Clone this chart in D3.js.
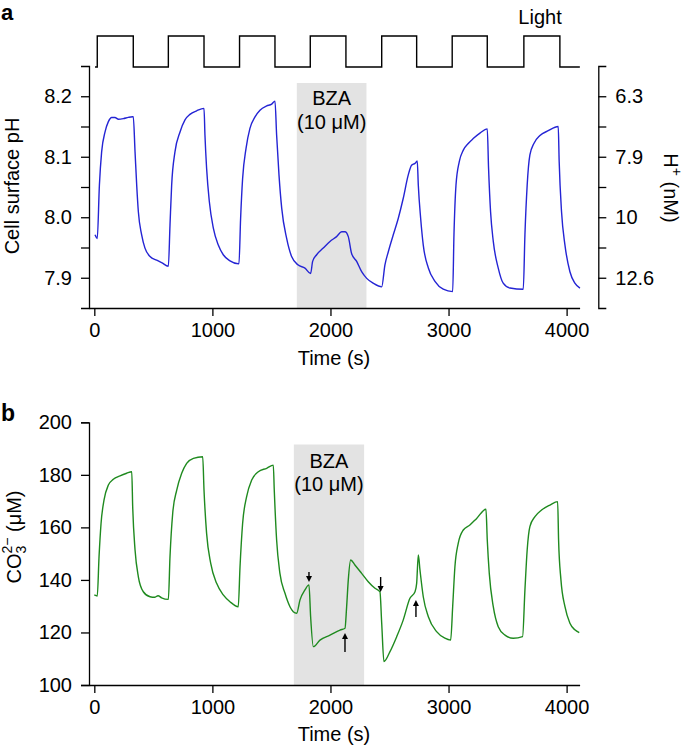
<!DOCTYPE html>
<html>
<head>
<meta charset="utf-8">
<script src="https://cdn.jsdelivr.net/npm/d3@7"></script>
<style>
  body { margin: 0; background: #fff; }
  svg { display: block; }
  text { font-family: "Liberation Sans", Arial, Helvetica, sans-serif; }
</style>
</head>
<body>
<svg id="chart" width="685" height="746"></svg>
<script>
// ---------- data ----------
// Panel a: cell surface pH vs time (s)
const phTime = [6, 25, 43, 62, 91, 119, 147, 175, 204, 246, 288, 325, 330, 345, 359, 373, 401, 429, 472, 528, 570, 627, 641, 655, 683, 726, 768, 810, 867, 929, 937, 951, 974, 1008, 1050, 1092, 1149, 1225, 1239, 1256, 1285, 1318, 1361, 1403, 1460, 1502, 1530, 1544, 1564, 1587, 1629, 1671, 1727, 1784, 1832, 1849, 1883, 1939, 1996, 2052, 2095, 2123, 2151, 2179, 2222, 2264, 2307, 2362, 2434, 2461, 2490, 2532, 2574, 2616, 2659, 2687, 2716, 2735, 2744, 2764, 2786, 2829, 2885, 2955, 3035, 3046, 3063, 3091, 3125, 3167, 3209, 3266, 3328, 3339, 3356, 3379, 3421, 3463, 3520, 3633, 3647, 3666, 3689, 3723, 3774, 3844, 3929, 3937, 3957, 3986, 4028, 4070, 4113];
const phValue = [7.971, 7.965, 8.053, 8.108, 8.141, 8.158, 8.165, 8.165, 8.162, 8.163, 8.165, 8.166, 8.166, 8.108, 8.053, 8.009, 7.971, 7.949, 7.935, 7.929, 7.925, 7.919, 7.987, 8.053, 8.108, 8.141, 8.161, 8.170, 8.176, 8.180, 8.136, 8.081, 8.026, 7.982, 7.954, 7.938, 7.928, 7.923, 7.998, 8.064, 8.114, 8.147, 8.166, 8.177, 8.184, 8.187, 8.192, 8.136, 8.070, 8.015, 7.965, 7.935, 7.921, 7.916, 7.907, 7.927, 7.938, 7.949, 7.960, 7.968, 7.976, 7.976, 7.968, 7.940, 7.927, 7.910, 7.899, 7.891, 7.885, 7.921, 7.943, 7.971, 7.998, 8.031, 8.070, 8.086, 8.089, 8.093, 8.053, 7.998, 7.954, 7.916, 7.894, 7.881, 7.877, 7.971, 8.053, 8.092, 8.111, 8.122, 8.130, 8.139, 8.146, 8.081, 8.009, 7.960, 7.916, 7.891, 7.883, 7.881, 7.971, 8.053, 8.103, 8.122, 8.135, 8.143, 8.150, 8.092, 8.009, 7.954, 7.910, 7.891, 7.883];

// Panel b: CO3 2- (uM) vs time (s)
const coTime = [0, 25, 40, 57, 82, 119, 161, 218, 274, 317, 325, 345, 373, 415, 472, 510, 540, 570, 627, 641, 664, 698, 740, 782, 839, 918, 929, 951, 986, 1036, 1092, 1149, 1219, 1234, 1256, 1290, 1333, 1389, 1460, 1516, 1524, 1544, 1572, 1615, 1657, 1685, 1714, 1742, 1784, 1818, 1832, 1855, 1911, 1996, 2081, 2123, 2137, 2151, 2171, 2207, 2264, 2320, 2377, 2419, 2434, 2453, 2504, 2561, 2616, 2673, 2716, 2730, 2744, 2758, 2786, 2829, 2899, 2969, 3018, 3035, 3054, 3082, 3125, 3181, 3238, 3317, 3328, 3345, 3379, 3421, 3478, 3548, 3627, 3647, 3666, 3689, 3732, 3788, 3859, 3924, 3932, 3952, 3986, 4028, 4070, 4107];
const coValue = [134.3, 133.9, 148.8, 161.5, 170.4, 176.1, 178.3, 179.6, 180.6, 181.2, 167.9, 151.4, 141.2, 135.5, 133.6, 133.4, 134.0, 133.2, 132.6, 148.8, 165.4, 174.2, 180.6, 184.4, 186.3, 186.9, 174.2, 157.7, 146.3, 138.7, 134.3, 131.7, 129.8, 145.0, 161.5, 171.7, 178.0, 181.2, 182.5, 183.7, 174.2, 155.2, 142.5, 134.9, 129.8, 127.9, 127.3, 132.4, 136.2, 138.1, 126.0, 114.6, 117.1, 119.0, 120.9, 121.6, 129.8, 140.0, 147.6, 145.7, 142.5, 139.3, 136.8, 135.5, 123.5, 108.9, 112.7, 118.4, 124.7, 133.0, 135.5, 138.7, 149.5, 143.8, 133.6, 126.0, 120.3, 117.8, 117.1, 129.8, 145.0, 153.9, 159.0, 160.9, 163.4, 166.9, 155.2, 142.5, 129.8, 122.2, 119.0, 117.8, 118.4, 136.2, 151.4, 160.3, 164.1, 166.6, 168.5, 169.8, 155.2, 140.0, 129.8, 123.5, 121.0, 119.9];

// Light on/off trace (1 = light, 0 = dark)
const lightTime = [6, 25, 330, 627, 929, 1230, 1530, 1829, 2131, 2434, 2730, 3031, 3328, 3638, 3943, 4112];
const lightState = [0, 1, 0, 1, 0, 1, 0, 1, 0, 1, 0, 1, 0, 1, 0, 0];

// BZA treatment windows (s)
const bzaA = [1715, 2305];
const bzaB = [1690, 2285];

// Arrows in panel b: time, tip value, tail value
const arrowTime = [1818, 2123, 2425, 2724];
const arrowTip = [139.2, 119.8, 135.4, 132.4];
const arrowTail = [143.0, 112.6, 141.1, 125.9];

// Tick values / labels
const timeTicks = [0, 1000, 2000, 3000, 4000];
const phTicks = [7.9, 7.95, 8.0, 8.05, 8.1, 8.15, 8.2];
const phMajor = [7.9, 8.0, 8.1, 8.2];
const hLabels = ["12.6", "10", "7.9", "6.3"];
const coTicks = [100, 120, 140, 160, 180, 200];

// ---------- drawing ----------
const svg = d3.select("#chart");
const FONT = 20;
const AXW = 1.3;

const x = d3.scaleLinear().domain([-45, 4110]).range([89, 579.6]);
const yA = d3.scaleLinear().domain([7.85, 8.25]).range([308, 66]);
const yB = d3.scaleLinear().domain([100, 200]).range([685, 422.3]);
const yL = d3.scaleLinear().domain([0, 1]).range([67, 36]);

function styleAxis(g) {
  g.attr("font-size", FONT).attr("font-family", '"Liberation Sans", Arial, Helvetica, sans-serif');
  g.selectAll("path, line").attr("stroke", "#000").attr("stroke-width", AXW);
  g.selectAll("text").attr("fill", "#000");
}

// BZA shading
svg.append("rect").attr("x", x(bzaA[0])).attr("y", 83)
  .attr("width", x(bzaA[1]) - x(bzaA[0])).attr("height", yA(7.85) - 83)
  .attr("fill", "#e3e3e3");
svg.append("rect").attr("x", x(bzaB[0])).attr("y", 444.5)
  .attr("width", x(bzaB[1]) - x(bzaB[0])).attr("height", yB(100) - 444.5)
  .attr("fill", "#e3e3e3");

// Light trace
const lightData = lightTime.map((t, i) => [t, lightState[i]]);
svg.append("path")
  .attr("d", d3.line().x(d => x(d[0])).y(d => yL(d[1])).curve(d3.curveStepAfter)(lightData))
  .attr("fill", "none").attr("stroke", "#000").attr("stroke-width", 1.4);
svg.append("text").attr("x", 540).attr("y", 24).attr("text-anchor", "middle")
  .attr("font-size", FONT).text("Light");

// Panel a axes
const isMajor = d => Math.abs(d * 10 - Math.round(d * 10)) < 1e-6;
svg.append("g").attr("transform", `translate(${x.range()[0]},0)`)
  .call(d3.axisLeft(yA).tickValues(phTicks).tickSize(8).tickSizeOuter(8).tickPadding(9)
    .tickFormat(d => isMajor(d) ? d3.format(".1f")(d) : ""))
  .call(styleAxis);
svg.append("g").attr("transform", `translate(598.3,0)`)
  .call(d3.axisRight(yA).tickValues(phTicks).tickSize(8).tickSizeOuter(8).tickPadding(9)
    .tickFormat(d => {
      const i = phMajor.findIndex(m => Math.abs(m - d) < 1e-6);
      return i >= 0 ? hLabels[i] : "";
    }))
  .call(styleAxis);
svg.append("g").attr("transform", `translate(0,${yA.range()[0]})`)
  .call(d3.axisBottom(x).tickValues(timeTicks).tickSize(8).tickSizeOuter(0).tickPadding(7)
    .tickFormat(d3.format("d")))
  .call(styleAxis);

// Panel a trace
const phData = phTime.map((t, i) => [t, phValue[i]]);
svg.append("path")
  .attr("d", d3.line().x(d => x(d[0])).y(d => yA(d[1])).curve(d3.curveMonotoneX)(phData))
  .attr("fill", "none").attr("stroke", "#2424d4").attr("stroke-width", 1.4);

// Panel a labels
svg.append("text").attr("transform", "translate(19,186) rotate(-90)")
  .attr("text-anchor", "middle").attr("font-size", FONT).text("Cell surface pH");
const hl = svg.append("text").attr("transform", "translate(664,188) rotate(90)")
  .attr("text-anchor", "middle").attr("font-size", FONT);
hl.append("tspan").text("H");
hl.append("tspan").attr("dy", -8).attr("font-size", 14).text("+");
hl.append("tspan").attr("dy", 8).text(" (nM)");
svg.append("text").attr("x", 334).attr("y", 365).attr("text-anchor", "middle")
  .attr("font-size", FONT).text("Time (s)");
svg.append("text").attr("x", (x(bzaA[0]) + x(bzaA[1])) / 2).attr("y", 105).attr("text-anchor", "middle")
  .attr("font-size", FONT).text("BZA");
svg.append("text").attr("x", (x(bzaA[0]) + x(bzaA[1])) / 2).attr("y", 129).attr("text-anchor", "middle")
  .attr("font-size", FONT).text("(10 μM)");
svg.append("text").attr("x", 1).attr("y", 20).attr("font-size", 22).attr("font-weight", "bold").text("a");

// Panel b axes
svg.append("g").attr("transform", `translate(${x.range()[0]},0)`)
  .call(d3.axisLeft(yB).tickValues(coTicks).tickSize(8).tickSizeOuter(8).tickPadding(9))
  .call(styleAxis);
svg.append("g").attr("transform", `translate(0,${yB.range()[0]})`)
  .call(d3.axisBottom(x).tickValues(timeTicks).tickSize(8).tickSizeOuter(0).tickPadding(7)
    .tickFormat(d3.format("d")))
  .call(styleAxis);

// Panel b trace
const coData = coTime.map((t, i) => [t, coValue[i]]);
svg.append("path")
  .attr("d", d3.line().x(d => x(d[0])).y(d => yB(d[1])).curve(d3.curveMonotoneX)(coData))
  .attr("fill", "none").attr("stroke", "#1f8a1f").attr("stroke-width", 1.4);

// Arrows
arrowTime.forEach((t, i) => {
  const ax = x(t), tipY = yB(arrowTip[i]), tailY = yB(arrowTail[i]);
  const dir = tipY > tailY ? 1 : -1; // 1 = pointing down
  const headLen = 6, headW = 3;
  svg.append("line").attr("x1", ax).attr("x2", ax)
    .attr("y1", tailY).attr("y2", tipY - dir * headLen)
    .attr("stroke", "#000").attr("stroke-width", 1.4);
  svg.append("path")
    .attr("d", `M${ax},${tipY} L${ax - headW},${tipY - dir * headLen} L${ax + headW},${tipY - dir * headLen} Z`)
    .attr("fill", "#000");
});

// Panel b labels
const cl = svg.append("text").attr("transform", "translate(20.5,537) rotate(-90)")
  .attr("text-anchor", "middle").attr("font-size", FONT);
cl.append("tspan").text("CO");
cl.append("tspan").attr("dy", 5).attr("font-size", 14).text("3");
cl.append("tspan").attr("dx", -7.8).attr("dy", -14).attr("font-size", 14).text("2−");
cl.append("tspan").attr("dy", 9).text(" (μM)");
svg.append("text").attr("x", 334).attr("y", 741).attr("text-anchor", "middle")
  .attr("font-size", FONT).text("Time (s)");
svg.append("text").attr("x", (x(bzaB[0]) + x(bzaB[1])) / 2).attr("y", 468).attr("text-anchor", "middle")
  .attr("font-size", FONT).text("BZA");
svg.append("text").attr("x", (x(bzaB[0]) + x(bzaB[1])) / 2).attr("y", 491).attr("text-anchor", "middle")
  .attr("font-size", FONT).text("(10 μM)");
svg.append("text").attr("x", 1).attr("y", 421).attr("font-size", 23).attr("font-weight", "bold").text("b");
</script>
</body>
</html>
